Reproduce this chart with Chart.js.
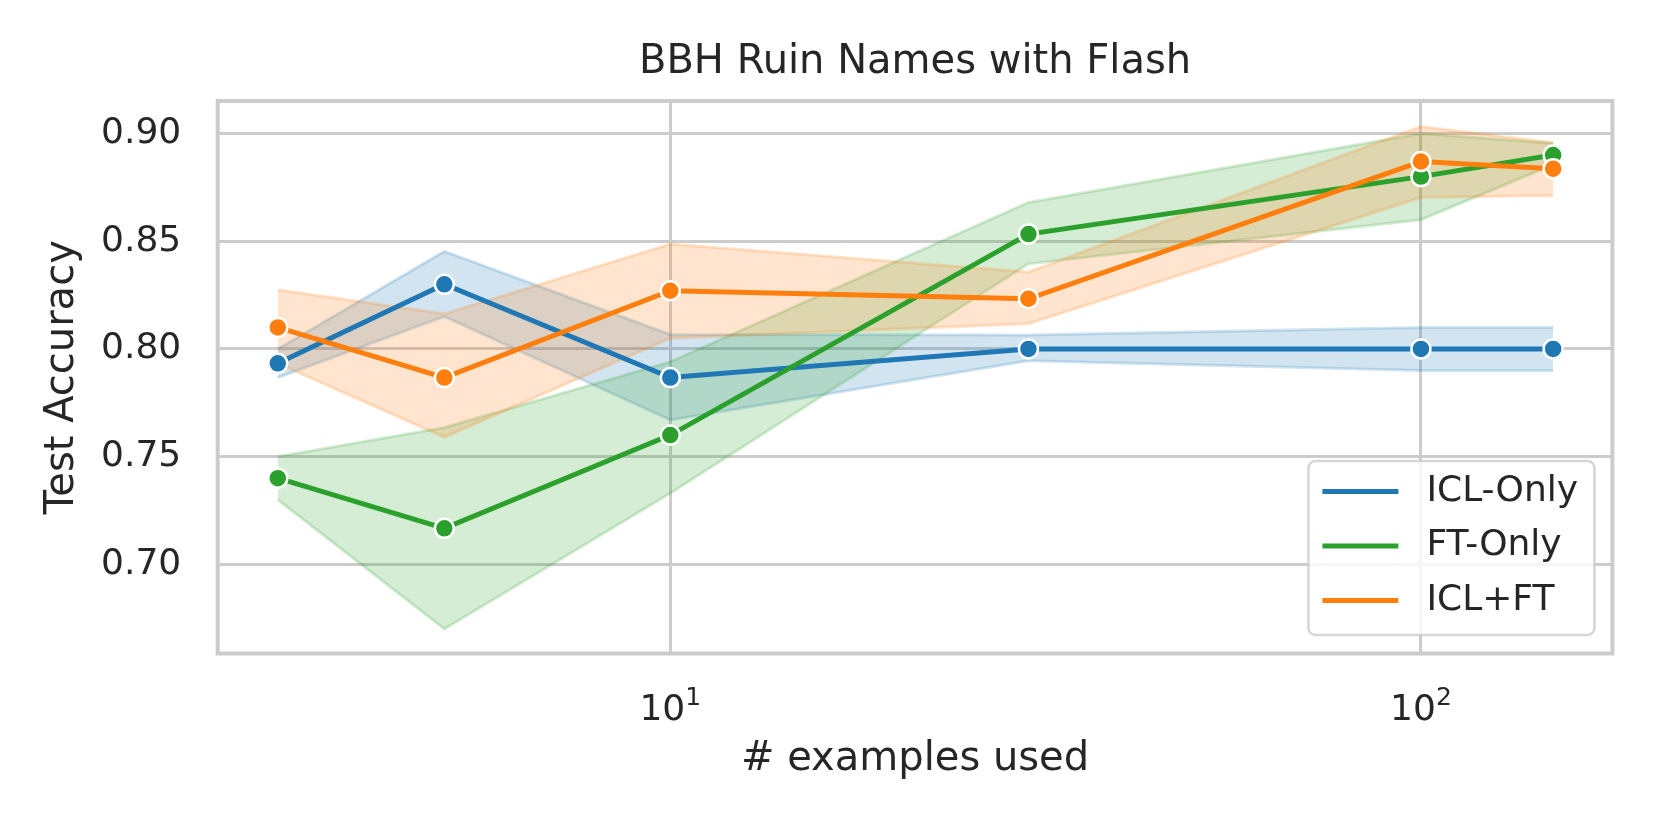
<!DOCTYPE html>
<html>
<head>
<meta charset="utf-8">
<script src="https://cdn.jsdelivr.net/npm/chart.js@4.4.1/dist/chart.umd.min.js"></script>
<style>
  html, body { margin: 0; padding: 0; background: #fff; }
</style>
</head>
<body>
<canvas id="chart" width="1655" height="840"></canvas>
<script>
// seaborn whitegrid look
const TEXT = '#262626';
const GRID = '#cccccc';
const FONT = '"DejaVu Sans", sans-serif';
Chart.defaults.font.family = FONT;
Chart.defaults.color = TEXT;

const shots = [3, 5, 10, 30, 100, 150];

const iclOnly = [0.7933, 0.8300, 0.7867, 0.8000, 0.8000, 0.8000];
const iclOnlyLo = [0.7867, 0.8150, 0.7670, 0.7945, 0.7900, 0.7900];
const iclOnlyHi = [0.8000, 0.8453, 0.8067, 0.8065, 0.8100, 0.8100];

const ftOnly = [0.7400, 0.7167, 0.7600, 0.8533, 0.8800, 0.8900];
const ftOnlyLo = [0.7300, 0.6700, 0.7330, 0.8395, 0.8600, 0.8855];
const ftOnlyHi = [0.7500, 0.7635, 0.7940, 0.8680, 0.9000, 0.8955];

const iclFt = [0.8100, 0.7867, 0.8270, 0.8233, 0.8870, 0.8837];
const iclFtLo = [0.7933, 0.7590, 0.8050, 0.8117, 0.8703, 0.8712];
const iclFtHi = [0.8275, 0.8163, 0.8487, 0.8357, 0.9033, 0.8957];

const yTicks = [0.70, 0.75, 0.80, 0.85, 0.90];
const xTicks = [10, 100];
const xTickBase = ['10', '10'];
const xTickExp = ['1', '2'];

const COLORS = {
  blue: [31, 119, 180],
  green: [44, 160, 44],
  orange: [255, 127, 14],
};
const rgba = (c, a) => `rgba(${c[0]},${c[1]},${c[2]},${a})`;

const pts = ys => shots.map((x, i) => ({ x, y: ys[i] }));

function band(hi, lo, c, order) {
  const common = {
    band: true,
    borderColor: rgba(c, 0.2),
    backgroundColor: rgba(c, 0.2),
    borderWidth: 3,
    pointRadius: 0,
    order,
  };
  return [
    { ...common, data: pts(hi), fill: '+1' },
    { ...common, data: pts(lo), fill: false },
  ];
}

function line(label, ys, c, order) {
  return {
    label,
    data: pts(ys),
    borderColor: rgba(c, 1),
    backgroundColor: rgba(c, 1),
    pointBackgroundColor: rgba(c, 1),
    pointBorderColor: '#ffffff',
    pointBorderWidth: 2.5,
    pointRadius: 9.5,
    borderWidth: 5,
    tension: 0,
    fill: false,
    order,
  };
}

const datasets = [
  ...band(iclOnlyHi, iclOnlyLo, COLORS.blue, 12),
  ...band(ftOnlyHi, ftOnlyLo, COLORS.green, 11),
  ...band(iclFtHi, iclFtLo, COLORS.orange, 10),
  line('ICL-Only', iclOnly, COLORS.blue, 2),
  line('FT-Only', ftOnly, COLORS.green, 1),
  line('ICL+FT', iclFt, COLORS.orange, 0),
];

// axes frame (all four spines)
const spines = {
  id: 'spines',
  beforeDatasetsDraw(chart) {
    const { ctx, chartArea: a } = chart;
    ctx.save();
    ctx.strokeStyle = GRID;
    ctx.lineWidth = 4;
    ctx.strokeRect(a.left, a.top, a.right - a.left, a.bottom - a.top);
    ctx.restore();
  },
};

// log tick labels as 10 with a raised exponent, like matplotlib mathtext
const powerTicks = {
  id: 'powerTicks',
  afterDraw(chart) {
    const { ctx } = chart;
    const xs = chart.scales.x;
    const base = chart.chartArea.bottom + 66.5;
    ctx.save();
    ctx.fillStyle = TEXT;
    ctx.textBaseline = 'alphabetic';
    ctx.textAlign = 'left';
    xTicks.forEach((v, i) => {
      const px = xs.getPixelForValue(v);
      ctx.font = `36px ${FONT}`;
      const w1 = ctx.measureText(xTickBase[i]).width;
      ctx.font = `25px ${FONT}`;
      const w2 = ctx.measureText(xTickExp[i]).width;
      const x0 = px - (w1 + w2) / 2;
      ctx.font = `36px ${FONT}`;
      ctx.fillText(xTickBase[i], x0, base);
      ctx.font = `25px ${FONT}`;
      ctx.fillText(xTickExp[i], x0 + w1, base - 15);
    });
    ctx.restore();
  },
};

// matplotlib style legend in the lower right corner
const cornerLegend = {
  id: 'cornerLegend',
  afterDraw(chart) {
    const { ctx, chartArea: a } = chart;
    const items = chart.data.datasets.filter(d => !d.band);
    const w = 286, h = 174;
    const x0 = a.right - 18 - w;
    const y0 = a.bottom - 18.5 - h;
    ctx.save();
    ctx.beginPath();
    ctx.roundRect(x0, y0, w, h, 7);
    ctx.fillStyle = 'rgba(255,255,255,0.8)';
    ctx.fill();
    ctx.strokeStyle = 'rgba(204,204,204,0.8)';
    ctx.lineWidth = 2.5;
    ctx.stroke();
    ctx.font = `36px ${FONT}`;
    ctx.textBaseline = 'middle';
    ctx.textAlign = 'left';
    items.forEach((d, i) => {
      const y = y0 + 30.5 + i * 54.5;
      ctx.strokeStyle = d.borderColor;
      ctx.lineWidth = 5;
      ctx.beginPath();
      ctx.moveTo(x0 + 14, y);
      ctx.lineTo(x0 + 90, y);
      ctx.stroke();
      ctx.fillStyle = TEXT;
      ctx.fillText(d.label, x0 + 118, y);
    });
    ctx.restore();
  },
};

new Chart(document.getElementById('chart'), {
  type: 'line',
  data: { datasets },
  plugins: [spines, powerTicks, cornerLegend],
  options: {
    responsive: false,
    animation: false,
    layout: { padding: { left: 0, right: 42.6, top: 0, bottom: 0 } },
    plugins: {
      legend: { display: false },
      tooltip: { enabled: false },
      title: {
        display: true,
        text: 'BBH Ruin Names with Flash',
        fullSize: false,
        color: TEXT,
        font: { size: 40, weight: 'normal', lineHeight: 1.2 },
        padding: { top: 38.5, bottom: 14.5 },
      },
    },
    scales: {
      x: {
        type: 'logarithmic',
        min: 2.495,
        max: 179.9,
        afterFit: s => { s.height = 186.5; },
        afterBuildTicks: s => { s.ticks = xTicks.map(v => ({ value: v })); },
        ticks: { display: false },
        grid: { color: GRID, lineWidth: 3, drawTicks: false },
        border: { display: false },
        title: {
          display: true,
          text: '# examples used',
          color: TEXT,
          font: { size: 40, lineHeight: 1.2 },
          padding: { top: 0, bottom: 56 },
        },
      },
      y: {
        min: 0.6586,
        max: 0.9151,
        afterFit: s => { s.width = 217.7; },
        afterBuildTicks: s => { s.ticks = yTicks.map(v => ({ value: v })); },
        ticks: {
          padding: 36.5,
          font: { size: 36 },
          color: TEXT,
          callback: v => v.toFixed(2),
        },
        grid: { color: GRID, lineWidth: 3, drawTicks: false },
        border: { display: false },
        title: {
          display: true,
          text: 'Test Accuracy',
          color: TEXT,
          font: { size: 40, lineHeight: 1.2 },
          padding: { top: 39, bottom: 0 },
        },
      },
    },
  },
});
</script>
</body>
</html>
